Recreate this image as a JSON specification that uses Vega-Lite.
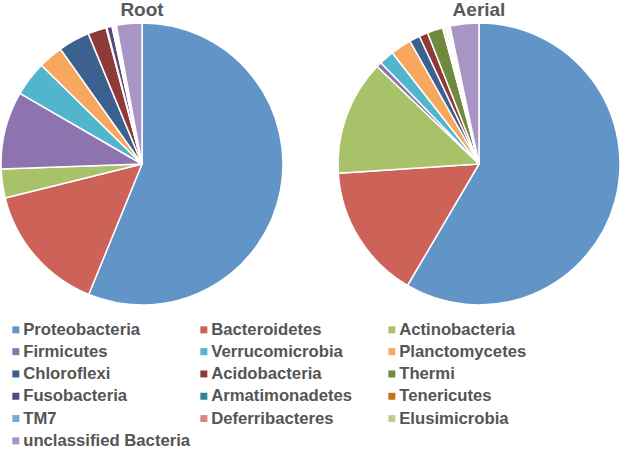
{
  "$schema": "https://vega.github.io/schema/vega-lite/v6.json",
  "padding": 0,
  "background": "white",
  "bounds": "flush",
  "datasets": {
    "bact": [
      {"sample": "Root", "phylum": "Proteobacteria", "rank": 1, "pct": 56.0},
      {"sample": "Root", "phylum": "Bacteroidetes", "rank": 2, "pct": 14.9},
      {"sample": "Root", "phylum": "Actinobacteria", "rank": 3, "pct": 3.3},
      {"sample": "Root", "phylum": "Firmicutes", "rank": 4, "pct": 8.9},
      {"sample": "Root", "phylum": "Verrucomicrobia", "rank": 5, "pct": 4.0},
      {"sample": "Root", "phylum": "Planctomycetes", "rank": 6, "pct": 2.8},
      {"sample": "Root", "phylum": "Chloroflexi", "rank": 7, "pct": 3.6},
      {"sample": "Root", "phylum": "Acidobacteria", "rank": 8, "pct": 2.1},
      {"sample": "Root", "phylum": "Thermi", "rank": 9, "pct": 0.1},
      {"sample": "Root", "phylum": "Fusobacteria", "rank": 10, "pct": 0.6},
      {"sample": "Root", "phylum": "Armatimonadetes", "rank": 11, "pct": 0.05},
      {"sample": "Root", "phylum": "Tenericutes", "rank": 12, "pct": 0.05},
      {"sample": "Root", "phylum": "TM7", "rank": 13, "pct": 0.2},
      {"sample": "Root", "phylum": "Deferribacteres", "rank": 14, "pct": 0.1},
      {"sample": "Root", "phylum": "Elusimicrobia", "rank": 15, "pct": 0.1},
      {"sample": "Root", "phylum": "unclassified Bacteria", "rank": 16, "pct": 2.9},
      {"sample": "Aerial", "phylum": "Proteobacteria", "rank": 1, "pct": 58.5},
      {"sample": "Aerial", "phylum": "Bacteroidetes", "rank": 2, "pct": 15.5},
      {"sample": "Aerial", "phylum": "Actinobacteria", "rank": 3, "pct": 13.2},
      {"sample": "Aerial", "phylum": "Firmicutes", "rank": 4, "pct": 0.6},
      {"sample": "Aerial", "phylum": "Verrucomicrobia", "rank": 5, "pct": 1.7},
      {"sample": "Aerial", "phylum": "Planctomycetes", "rank": 6, "pct": 2.4},
      {"sample": "Aerial", "phylum": "Chloroflexi", "rank": 7, "pct": 1.2},
      {"sample": "Aerial", "phylum": "Acidobacteria", "rank": 8, "pct": 1.0},
      {"sample": "Aerial", "phylum": "Thermi", "rank": 9, "pct": 1.8},
      {"sample": "Aerial", "phylum": "Fusobacteria", "rank": 10, "pct": 0.05},
      {"sample": "Aerial", "phylum": "Armatimonadetes", "rank": 11, "pct": 0.2},
      {"sample": "Aerial", "phylum": "Tenericutes", "rank": 12, "pct": 0.2},
      {"sample": "Aerial", "phylum": "TM7", "rank": 13, "pct": 0.2},
      {"sample": "Aerial", "phylum": "Deferribacteres", "rank": 14, "pct": 0.1},
      {"sample": "Aerial", "phylum": "Elusimicrobia", "rank": 15, "pct": 0.1},
      {"sample": "Aerial", "phylum": "unclassified Bacteria", "rank": 16, "pct": 3.3}
    ]
  },
  "data": {"name": "bact"},
  "spacing": 55,
  "hconcat": [
    {
      "title": {"text": "Root"},
      "width": 282,
      "height": 282,
      "transform": [{"filter": "datum.sample === 'Root'"}],
      "mark": {"type": "arc", "stroke": "white", "strokeWidth": 1.5, "strokeJoin": "round"},
      "encoding": {
        "theta": {"field": "pct", "type": "quantitative", "stack": true},
        "order": {"field": "rank", "type": "quantitative"},
        "color": {
          "field": "phylum",
          "type": "nominal",
          "sort": null,
          "scale": {
            "domain": ["Proteobacteria", "Bacteroidetes", "Actinobacteria", "Firmicutes", "Verrucomicrobia", "Planctomycetes", "Chloroflexi", "Acidobacteria", "Thermi", "Fusobacteria", "Armatimonadetes", "Tenericutes", "TM7", "Deferribacteres", "Elusimicrobia", "unclassified Bacteria"],
            "range": ["#6195C8", "#CD6259", "#A8C26A", "#8F73AE", "#52B5CE", "#F7A85E", "#3B618F", "#8E3B37", "#6E8A3F", "#5B4878", "#2F8497", "#C7701B", "#7FA7D6", "#DB8580", "#B8D18A", "#A895C6"]
          }
        }
      }
    },
    {
      "title": {"text": "Aerial"},
      "width": 282,
      "height": 282,
      "transform": [{"filter": "datum.sample === 'Aerial'"}],
      "mark": {"type": "arc", "stroke": "white", "strokeWidth": 1.5, "strokeJoin": "round"},
      "encoding": {
        "theta": {"field": "pct", "type": "quantitative", "stack": true},
        "order": {"field": "rank", "type": "quantitative"},
        "color": {"field": "phylum", "type": "nominal", "sort": null}
      }
    }
  ],
  "resolve": {"scale": {"color": "shared"}},
  "config": {
    "view": {"stroke": null},
    "title": {
      "font": "Liberation Sans",
      "fontSize": 19,
      "fontWeight": "bold",
      "color": "#595959",
      "anchor": "middle",
      "offset": 2.5
    },
    "legend": {
      "title": null,
      "orient": "none",
      "legendX": 6.5,
      "legendY": 298,
      "direction": "horizontal",
      "columns": 3,
      "gridAlign": "all",
      "columnPadding": 5,
      "rowPadding": 4.3,
      "symbolType": "square",
      "symbolSize": 49,
      "symbolStrokeWidth": 0,
      "labelFont": "Liberation Sans",
      "labelFontSize": 16.7,
      "labelFontWeight": "bold",
      "labelColor": "#555555",
      "labelOffset": -1,
      "labelLimit": 300,
      "padding": 0,
      "titlePadding": 0
    }
  }
}
